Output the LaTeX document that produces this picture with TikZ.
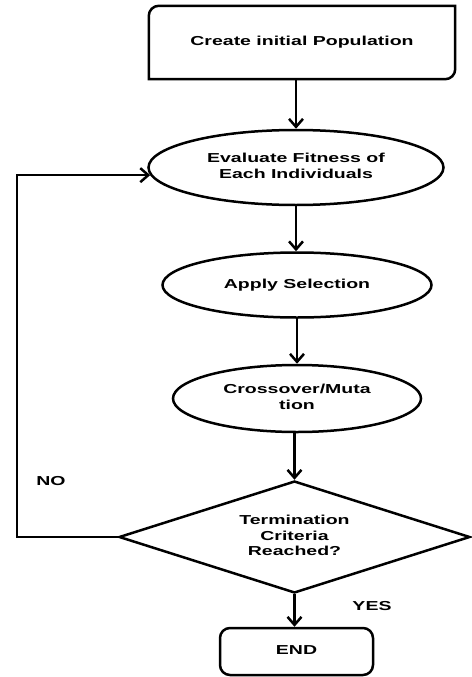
\documentclass[tikz,border=0pt]{standalone}
\usepackage{fontspec}
\setmainfont{Liberation Sans}
\usetikzlibrary{shapes.geometric,arrows.meta}
\newcommand{\stretchtxt}[1]{\scalebox{1.5}[1]{\begin{tabular}{@{}c@{}}#1\end{tabular}}}
\tikzset{
  x=1pt,y=1pt,
  txt/.style={font=\bfseries\fontsize{13}{15.5}\selectfont, align=center, text=black},
  shapeline/.style={line width=2.5pt, draw=black},
  oval/.style={txt, ellipse, shapeline, inner sep=0pt},
  plain/.style={txt, inner sep=0pt},
  arr/.style={line width=2.5pt, -{Straight Barb[length=8pt,width=14pt,line width=2.5pt]}},
  lbl/.style={font=\bfseries\fontsize{13}{15}\selectfont, text=black, inner sep=0pt}
}
\begin{document}
\begin{tikzpicture}
\useasboundingbox (0,0) rectangle (471,-677);
% start box
\node[plain, minimum width=306pt, minimum height=73pt] (create) at (302,-42.5) {\stretchtxt{Create initial Population}};
\draw[shapeline] (create.north east) -- ([yshift=10pt]create.south east)
  arc[start angle=0,end angle=-90,radius=10pt] -- (create.south west)
  -- ([yshift=-10pt]create.north west)
  arc[start angle=180,end angle=90,radius=10pt] -- cycle;
% ellipses
\node[oval, minimum width=295pt, minimum height=75pt] (eval) at (296,-167.5) {\stretchtxt{Evaluate Fitness of\\Each Individuals}};
\node[oval, minimum width=269pt, minimum height=65pt] (sel) at (297,-285) {\stretchtxt{Apply Selection}};
\node[oval, minimum width=248pt, minimum height=67pt] (cross) at (297,-398.5) {\stretchtxt{Crossover/Muta\\tion}};
% decision
\node[txt, diamond, shapeline, inner sep=0pt, aspect=3.13, minimum width=351pt, minimum height=112pt] (dec) at (294.5,-537) {\stretchtxt{Termination\\Criteria\\Reached?}};
% end
\node[plain, shapeline, rounded corners=10pt, minimum width=153pt, minimum height=47pt] (fin) at (296.5,-651.5) {\stretchtxt{END}};
% connectors
\draw[arr] (create.south -| eval.north) -- (eval.north);
\draw[arr] (eval.south) -- (eval.south |- sel.north);
\draw[arr] (sel.south -| cross.north) -- (cross.north);
\draw[arr] (cross.south -| dec.north) -- (dec.north);
\draw[arr] (dec.south) -- (dec.south |- fin.north);
\coordinate (loopx) at (17,0);
\draw[arr] (dec.west) -- (dec.west -| loopx) |- (eval.183);
% labels
\node[lbl] (no) at (51,-482) {\stretchtxt{NO}};
\node[lbl] (yes) at (372,-607) {\stretchtxt{YES}};
\end{tikzpicture}
\end{document}
